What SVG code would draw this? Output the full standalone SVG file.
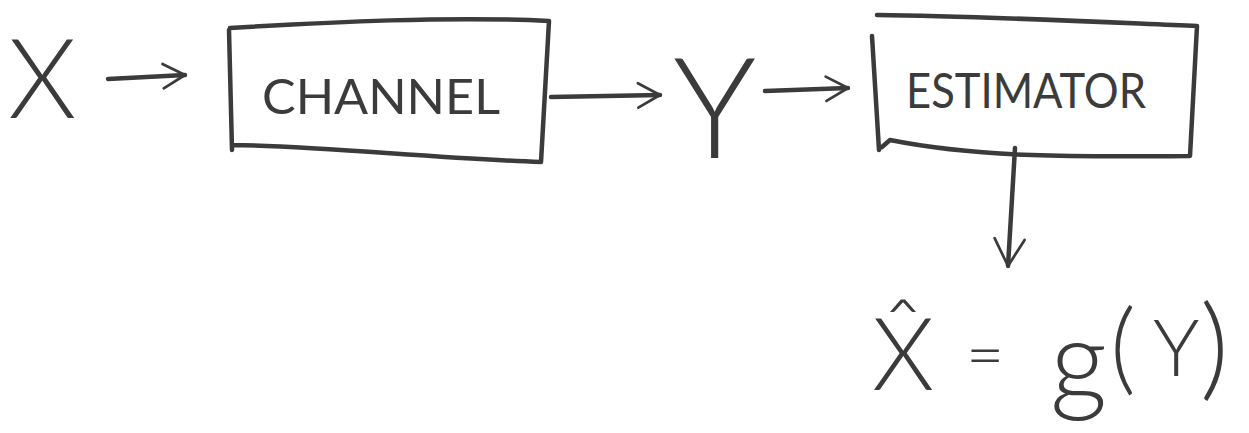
<svg xmlns="http://www.w3.org/2000/svg" width="1249" height="433" viewBox="0 0 1249 433">
  <style>
    .ink { fill: none; stroke: #3b3b3b; stroke-width: 4.5; stroke-linecap: round; stroke-linejoin: round; }
    .hand { fill: #3b3b3b; font-family: "Lato", "Open Sans", "Liberation Sans", sans-serif; font-weight: 300; }
    .big { font-size: 110px; }
    .label { font-size: 48px; font-weight: 400; }
  </style>
  <defs>
    <marker id="head" viewBox="0 0 12 12" refX="10" refY="6" markerWidth="6.5" markerHeight="6.5" orient="auto" markerUnits="strokeWidth">
      <path d="M1,1 L10,6 L1,11" fill="none" stroke="#3b3b3b" stroke-width="1.1" stroke-linecap="round" stroke-linejoin="round"/>
    </marker>
    <marker id="head-big" viewBox="0 0 12 12" refX="10" refY="6" markerWidth="8" markerHeight="8" orient="auto" markerUnits="strokeWidth">
      <path d="M1,1 L10,6 L1,11" fill="none" stroke="#3b3b3b" stroke-width="0.9" stroke-linecap="round" stroke-linejoin="round"/>
    </marker>
  </defs>
  <rect width="1249" height="433" fill="#ffffff"/>

  <g id="input-x">
    <text class="hand big" x="8" y="118">X</text>
  </g>

  <g id="channel">
    <path class="ink" d="M229,30 L232,150 M230,28 C330,22 450,16 549,21 L541,162 C430,158 320,146 233,145"/>
    <text class="hand label" x="262" y="114" textLength="238" lengthAdjust="spacingAndGlyphs">CHANNEL</text>
  </g>

  <g id="output-y">
    <text class="hand" x="673" y="158" font-size="140">Y</text>
  </g>

  <g id="estimator">
    <path class="ink" d="M872,36 L879,150 M877,15 C980,16 1100,22 1197,26 L1190,156 C1080,157 980,158 890,140 L882,147"/>
    <text class="hand label" x="906" y="108" textLength="240" lengthAdjust="spacingAndGlyphs">ESTIMATOR</text>
  </g>

  <g id="estimate">
    <text class="hand" x="872" y="390" font-size="100">X̂</text>
    <text class="hand" x="966" y="378" font-size="66">=</text>
    <text class="hand" x="1050" y="400" font-size="112">g</text>
    <text class="hand" x="1110" y="382" font-size="100">(</text>
    <text class="hand" x="1153" y="376" font-size="78">Y</text>
    <text class="hand" x="1200" y="386" font-size="112">)</text>
  </g>

  <g id="connectors">
    <path class="ink" d="M108,79 L185,75" marker-end="url(#head)"/>
    <path class="ink" d="M551,97 L660,95" marker-end="url(#head)"/>
    <path class="ink" d="M765,91 L848,88" marker-end="url(#head)"/>
    <path class="ink" d="M1015,148 L1008,266" marker-end="url(#head-big)"/>
  </g>
</svg>
